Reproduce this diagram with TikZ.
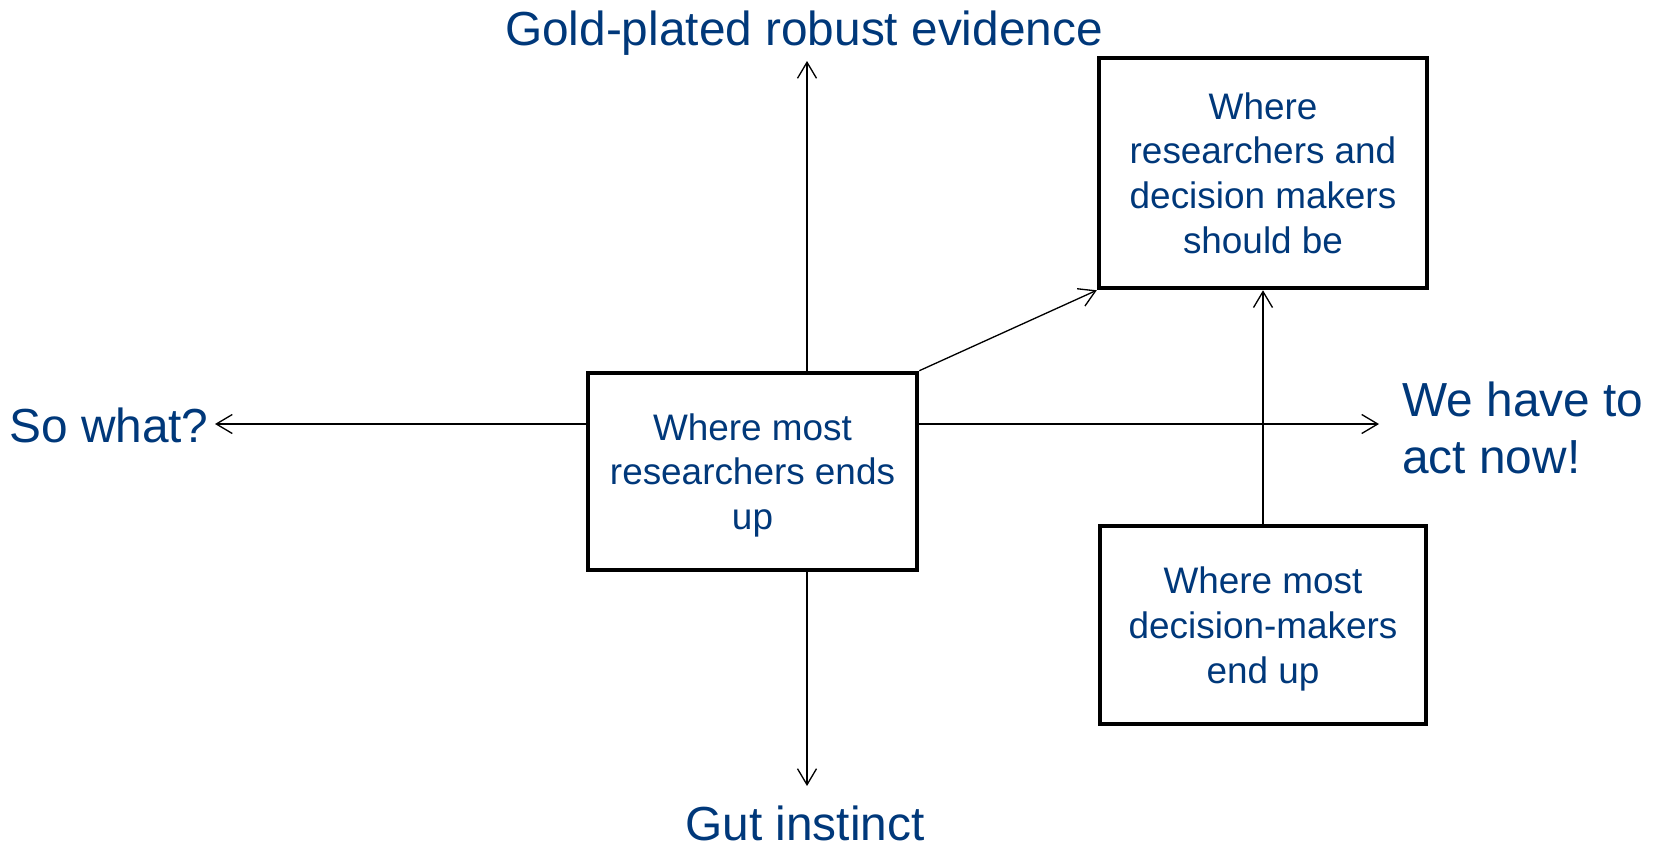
\documentclass[tikz,border=0pt]{standalone}
\usepackage{fontspec}
\setmainfont{Liberation Sans}
\usetikzlibrary{arrows.meta}
\definecolor{txtblue}{RGB}{0,56,122}

\begin{document}
\begin{tikzpicture}[x=0.02cm,y=-0.02cm,
    axis/.style={line width=0.75pt,black},
    arr/.style={line width=0.75pt,black,-{Straight Barb[length=3.2mm,width=3.8mm]}},
    box/.style={draw,line width=2.6pt,fill=white,align=center,text=txtblue,
      inner sep=0pt,text depth=-1pt,font=\fontsize{21}{25.5}\selectfont},
    lbl/.style={text=txtblue,inner sep=0pt,font=\fontsize{27.2}{32.4}\selectfont}]
  \useasboundingbox (0,0) rectangle (1659,845);
  % Axes
  \coordinate (N) at (807,61);
  \coordinate (S) at (807,786);
  \coordinate (W) at (215,424);
  \coordinate (E) at (1379,424);
  \draw[axis,{Straight Barb[length=3.2mm,width=3.8mm]}-{Straight Barb[length=3.2mm,width=3.8mm]}] (S) -- (N);
  \draw[axis,{Straight Barb[length=3.2mm,width=3.8mm]}-{Straight Barb[length=3.2mm,width=3.8mm]}] (W) -- (E);
  % Axis labels
  \node[lbl,anchor=base] (gold) at (804,45) {Gold-plated robust evidence};
  \node[lbl,anchor=base] (gut) at (805,840) {Gut instinct};
  \node[lbl,anchor=base] (sowhat) at (109,442) {So what?};
  \node[lbl,anchor=west,align=left] (actnow) at (1402,428) {We have to\\act now!};
  % Boxes
  \node[box,minimum width=6.58cm,minimum height=3.94cm] (mid) at (752.5,471.5)
    {Where most\\researchers ends\\up};
  \node[box,minimum width=6.56cm,minimum height=4.6cm] (should) at (1263,173)
    {Where\\researchers and\\decision makers\\should be};
  \node[box,minimum width=6.52cm,minimum height=3.96cm] (low) at (1263,625)
    {Where most\\decision-makers\\end up};
  % Moves
  \draw[arr] (mid.north east) -- (should.south west);
  \draw[arr] (low.north) -- (should.south);
\end{tikzpicture}
\end{document}
